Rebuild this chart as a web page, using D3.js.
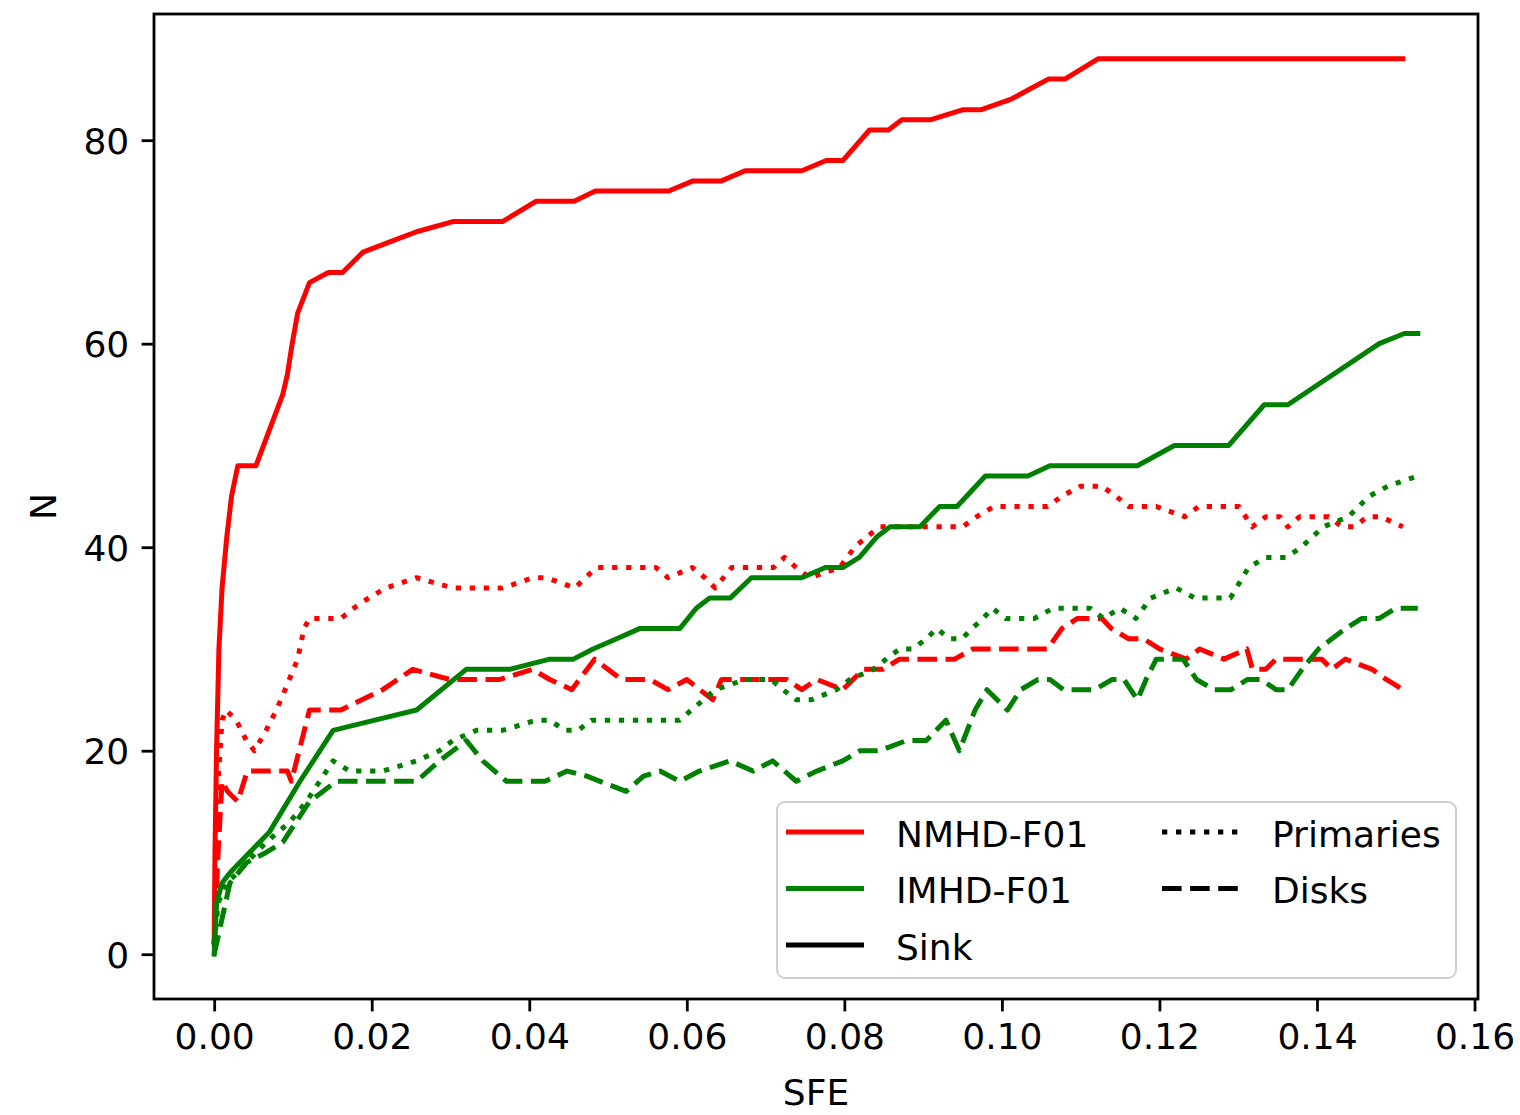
<!DOCTYPE html>
<html>
<head>
<meta charset="utf-8">
<script src="https://cdn.jsdelivr.net/npm/d3@7"></script>
<style>
  html, body { margin: 0; padding: 0; background: #ffffff; }
  svg { display: block; font-family: "DejaVu Sans", sans-serif; }
</style>
</head>
<body>
<svg id="chart" width="1520" height="1115"></svg>
<script>
// Number of objects (N) against star formation efficiency (SFE), pairs of [SFE, N]

const nmhdSink = [
  [0,1],[0.0001,10],[0.0003,20],[0.0006,30],[0.0010,36],[0.0016,41],[0.0022,45],[0.0030,48],
  [0.0053,48],[0.0087,55],[0.0093,57],[0.0099,60],[0.0106,63],[0.0121,66],[0.0145,67],[0.0163,67],
  [0.0189,69],[0.0223,70],[0.0257,71],[0.0303,72],[0.0366,72],[0.0409,74],[0.0457,74],[0.0484,75],
  [0.0577,75],[0.0608,76],[0.0644,76],[0.0674,77],[0.0746,77],[0.0777,78],[0.0798,78],[0.0832,81],
  [0.0856,81],[0.0873,82],[0.0909,82],[0.0951,83],[0.0974,83],[0.1011,84],[0.1035,85],[0.1059,86],
  [0.1080,86],[0.1122,88],[0.1509,88]
];

const nmhdPrimaries = [
  [0,1],[0.0005,17],[0.0010,23],[0.0015,24],[0.0028,23],[0.0041,21],[0.0051,20],[0.0066,22],
  [0.0079,24],[0.0090,26],[0.0106,29],[0.0114,32],[0.0121,33],[0.0161,33],[0.0177,34],[0.0196,35],
  [0.0218,36],[0.0257,37],[0.0303,36],[0.0366,36],[0.0405,37],[0.0422,37],[0.0458,36],[0.0485,38],
  [0.0561,38],[0.0576,37],[0.0607,38],[0.0623,37],[0.0636,36],[0.0657,38],[0.0710,38],[0.0724,39],
  [0.0739,38],[0.0756,37],[0.0794,38],[0.0813,40],[0.0828,41],[0.0845,42],[0.0950,42],[0.0968,43],
  [0.0990,44],[0.1058,44],[0.1076,45],[0.1100,46],[0.1127,46],[0.1145,45],[0.1161,44],[0.1196,44],
  [0.1232,43],[0.1250,44],[0.1301,44],[0.1318,42],[0.1335,43],[0.1353,43],[0.1363,42],[0.1378,43],
  [0.1415,43],[0.1432,42],[0.1447,42],[0.1464,43],[0.1481,43],[0.1509,42]
];

const nmhdDisks = [
  [0,1],[0.0005,10],[0.0010,17],[0.0017,16],[0.0030,15],[0.0042,18],[0.0054,18],[0.0093,18],
  [0.0098,17],[0.0121,24],[0.0161,24],[0.0214,26],[0.0252,28],[0.0299,27],[0.0363,27],[0.0404,28],
  [0.0426,27],[0.0454,26],[0.0483,29],[0.0517,27],[0.0553,27],[0.0576,26],[0.0600,27],[0.0633,25],
  [0.0644,27],[0.0697,27],[0.0727,27],[0.0746,26],[0.0765,27],[0.0798,26],[0.0824,28],[0.0849,28],
  [0.0870,29],[0.0940,29],[0.0963,30],[0.1058,30],[0.1076,32],[0.1096,33],[0.1127,33],[0.1139,32],
  [0.1161,31],[0.1180,31],[0.1200,30],[0.1234,29],[0.1251,30],[0.1282,29],[0.1311,30],[0.1318,28],
  [0.1335,28],[0.1348,29],[0.1376,29],[0.1406,29],[0.1419,28],[0.1436,29],[0.1470,28],[0.1488,27],
  [0.1509,26]
];

const imhdSink = [
  [0,0],[0.0003,5],[0.0010,7],[0.0020,8],[0.0070,12],[0.0109,17],[0.0151,22],[0.0204,23],
  [0.0257,24],[0.0320,28],[0.0375,28],[0.0426,29],[0.0456,29],[0.0481,30],[0.0511,31],[0.0540,32],
  [0.0591,32],[0.0612,34],[0.0629,35],[0.0655,35],[0.0682,37],[0.0746,37],[0.0776,38],[0.0798,38],
  [0.0819,39],[0.0841,41],[0.0858,42],[0.0896,42],[0.0921,44],[0.0943,44],[0.0979,47],[0.1033,47],
  [0.1061,48],[0.1172,48],[0.1219,50],[0.1288,50],[0.1333,54],[0.1363,54],[0.1479,60],[0.1511,61],
  [0.1528,61]
];

const imhdPrimaries = [
  [0,1],[0.0005,5],[0.0015,7],[0.0030,8],[0.0041,9],[0.0066,11],[0.0096,13],[0.0117,15],
  [0.0134,17],[0.0151,19],[0.0172,18],[0.0214,18],[0.0257,19],[0.0286,20],[0.0303,21],[0.0333,22],
  [0.0366,22],[0.0409,23],[0.0426,23],[0.0445,22],[0.0462,22],[0.0479,23],[0.0591,23],[0.0606,24],
  [0.0621,25],[0.0636,26],[0.0674,27],[0.0707,27],[0.0722,26],[0.0739,25],[0.0758,25],[0.0790,26],
  [0.0807,27],[0.0837,28],[0.0853,29],[0.0870,30],[0.0887,30],[0.0904,31],[0.0917,32],[0.0934,31],
  [0.0949,31],[0.0962,32],[0.0976,33],[0.0988,34],[0.1005,33],[0.1041,33],[0.1065,34],[0.1112,34],
  [0.1129,33],[0.1150,34],[0.1170,33],[0.1189,35],[0.1221,36],[0.1245,35],[0.1290,35],[0.1313,38],
  [0.1335,39],[0.1361,39],[0.1380,40],[0.1408,42],[0.1440,43],[0.1466,45],[0.1490,46],[0.1528,47]
];

const imhdDisks = [
  [0,0],[0.0020,7],[0.0041,9],[0.0066,10],[0.0087,11],[0.0104,13],[0.0121,15],[0.0138,16],
  [0.0155,17],[0.0257,17],[0.0286,19],[0.0320,21],[0.0341,19],[0.0371,17],[0.0420,17],[0.0448,18],
  [0.0473,17.5],[0.0523,16],[0.0545,17.5],[0.0566,18],[0.0591,17],[0.0616,18],[0.0655,19],[0.0684,18],
  [0.0709,19],[0.0739,17],[0.0765,18],[0.0798,19],[0.0820,20],[0.0845,20],[0.0879,21],[0.0904,21],
  [0.0929,23],[0.0946,20],[0.0966,24],[0.0981,26],[0.0994,25],[0.1007,24],[0.1024,26],[0.1046,27],
  [0.1061,27],[0.1078,26],[0.1118,26],[0.1140,27],[0.1155,27],[0.1172,25],[0.1183,27],[0.1196,29],
  [0.1230,29],[0.1247,27],[0.1269,26],[0.1291,26],[0.1312,27],[0.1329,27],[0.1348,26],[0.1363,26],
  [0.1381,28],[0.1402,30],[0.1419,31],[0.1436,32],[0.1457,33],[0.1479,33],[0.1500,34],[0.1528,34]
];

const xTicks = [0.00, 0.02, 0.04, 0.06, 0.08, 0.10, 0.12, 0.14, 0.16];
const yTicks = [0, 20, 40, 60, 80];
const runNames = ["NMHD-F01", "IMHD-F01"];
const runColors = ["#ff0000", "#008000"];
const kindNames = ["Sink", "Primaries", "Disks"];

// ---- layout ----
const svg = d3.select("#chart");
const plot = { left: 154, right: 1478, top: 14, bottom: 999 };
const lw = 5;
const dashStyles = { Sink: null, Primaries: "5.3 8.7", Disks: "19.6 8.5" };
const fontSize = 36;

const allSeries = [
  { run: 0, kind: "Sink", data: nmhdSink },
  { run: 0, kind: "Primaries", data: nmhdPrimaries },
  { run: 0, kind: "Disks", data: nmhdDisks },
  { run: 1, kind: "Sink", data: imhdSink },
  { run: 1, kind: "Primaries", data: imhdPrimaries },
  { run: 1, kind: "Disks", data: imhdDisks }
];

// 5% margins round the data extent
const xAll = allSeries.flatMap(s => s.data.map(d => d[0]));
const yAll = allSeries.flatMap(s => s.data.map(d => d[1]));
const [x0, x1] = d3.extent(xAll);
const [y0, y1] = d3.extent(yAll);
const xPad = (x1 - x0) * 0.05, yPad = (y1 - y0) * 0.05;

const x = d3.scaleLinear().domain([x0 - xPad, x1 + xPad]).range([plot.left, plot.right]);
const y = d3.scaleLinear().domain([y0 - yPad, y1 + yPad]).range([plot.bottom, plot.top]);

// ---- data lines ----
const clip = svg.append("clipPath").attr("id", "plotclip")
  .append("rect")
  .attr("x", plot.left).attr("y", plot.top)
  .attr("width", plot.right - plot.left).attr("height", plot.bottom - plot.top);

const line = d3.line().x(d => x(d[0])).y(d => y(d[1]));

svg.append("g").attr("clip-path", "url(#plotclip)")
  .selectAll("path")
  .data(allSeries)
  .join("path")
  .attr("d", s => line(s.data))
  .attr("fill", "none")
  .attr("stroke", s => runColors[s.run])
  .attr("stroke-width", lw)
  .attr("stroke-linejoin", "round")
  .attr("stroke-linecap", s => s.kind === "Sink" ? "square" : "butt")
  .attr("stroke-dasharray", s => dashStyles[s.kind]);

// ---- axes ----
const tickLen = 12.4, tickPad = 12.4, spineW = 2.8;

const xAxis = d3.axisBottom(x).tickValues(xTicks).tickFormat(d3.format(".2f"))
  .tickSizeInner(tickLen).tickSizeOuter(0).tickPadding(tickPad);
const yAxis = d3.axisLeft(y).tickValues(yTicks).tickFormat(d3.format("d"))
  .tickSizeInner(tickLen).tickSizeOuter(0).tickPadding(tickPad);

const gx = svg.append("g").attr("transform", `translate(0,${plot.bottom})`).call(xAxis);
const gy = svg.append("g").attr("transform", `translate(${plot.left},0)`).call(yAxis);

[gx, gy].forEach(g => {
  g.select(".domain").remove();
  g.selectAll(".tick line").attr("stroke", "#000").attr("stroke-width", spineW);
  g.selectAll(".tick text").attr("fill", "#000")
    .attr("font-family", "DejaVu Sans").attr("font-size", fontSize);
});
gx.selectAll(".tick text").attr("dy", null).attr("y", tickLen + tickPad)
  .attr("dominant-baseline", "hanging").attr("dy", "-0.02em");
gy.selectAll(".tick text").attr("dy", "0.36em");

// frame
svg.append("rect")
  .attr("x", plot.left).attr("y", plot.top)
  .attr("width", plot.right - plot.left).attr("height", plot.bottom - plot.top)
  .attr("fill", "none").attr("stroke", "#000").attr("stroke-width", spineW);

// axis titles
svg.append("text")
  .attr("x", (plot.left + plot.right) / 2).attr("y", 1105)
  .attr("text-anchor", "middle").attr("font-size", fontSize).attr("fill", "#000")
  .text("SFE");

svg.append("text")
  .attr("transform", `translate(56,${(plot.top + plot.bottom) / 2}) rotate(-90)`)
  .attr("text-anchor", "middle").attr("font-size", fontSize).attr("fill", "#000")
  .text("N");

// ---- legend ----
const legend = svg.append("g");
legend.append("rect")
  .attr("x", 777).attr("y", 802).attr("width", 679).attr("height", 176)
  .attr("rx", 8).attr("ry", 8)
  .attr("fill", "#ffffff").attr("fill-opacity", 0.8)
  .attr("stroke", "#d0d0d0").attr("stroke-width", 2);

const legendItems = [
  { label: runNames[0], color: runColors[0], dash: null, col: 0, row: 0 },
  { label: runNames[1], color: runColors[1], dash: null, col: 0, row: 1 },
  { label: kindNames[0], color: "#000", dash: dashStyles.Sink, col: 0, row: 2 },
  { label: kindNames[1], color: "#000", dash: dashStyles.Primaries, col: 1, row: 0 },
  { label: kindNames[2], color: "#000", dash: dashStyles.Disks, col: 1, row: 1 }
];
const colX = [786, 1162];
const handleLen = 78;
const rowY = [832, 888.5, 945];

const li = legend.selectAll("g.item").data(legendItems).join("g").attr("class", "item");
li.append("line")
  .attr("x1", d => colX[d.col]).attr("x2", d => colX[d.col] + handleLen)
  .attr("y1", d => rowY[d.row]).attr("y2", d => rowY[d.row])
  .attr("stroke", d => d.color).attr("stroke-width", lw)
  .attr("stroke-dasharray", d => d.dash);
li.append("text")
  .attr("x", d => colX[d.col] + handleLen + 32)
  .attr("y", d => rowY[d.row] + 14.5)
  .attr("font-size", fontSize).attr("fill", "#000")
  .text(d => d.label);
</script>
</body>
</html>
